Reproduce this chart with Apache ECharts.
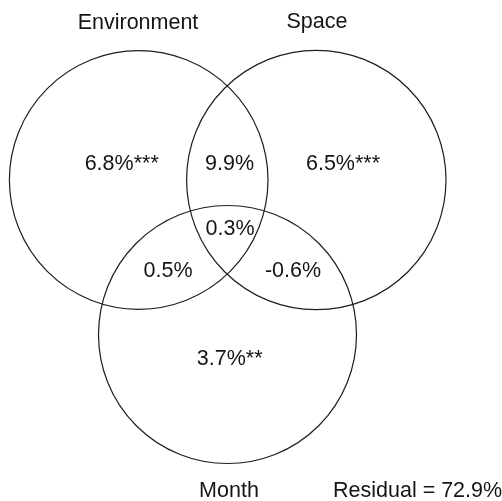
<!DOCTYPE html>
<html><head><meta charset="utf-8">
<script src="https://cdn.jsdelivr.net/npm/echarts@6/dist/echarts.min.js"></script>
<style>html,body{margin:0;padding:0;background:#fff}#c{width:502px;height:501px}</style>
</head><body><div id="c"></div>
<script>
// Sets (circles) in chart units
const setNames = ['Environment', 'Space', 'Month'];
const setCx = [138.7, 316.3, 227.5];
const setCy = [180, 180, 334.5];
const setR = [129.3, 129.7, 129];
const setLabelX = [138, 317, 229];
const setLabelY = [23, 22, 491];
// Region values
const regionLabels = ['6.8%***', '9.9%', '6.5%***', '0.3%', '0.5%', '-0.6%', '3.7%**'];
const regionX = [121.7, 229.5, 343, 230, 168, 293, 229.7];
const regionY = [164, 164, 164, 229, 271.5, 271.5, 359];
const residualLabel = 'Residual = 72.9%';
const residualX = [333];
const residualY = [491];

const FONT = 'Liberation Sans, Arial, Helvetica, sans-serif';
const TXT = '#151515';
const FS = 21.5;

const circleData = setNames.map((n, i) => [setCx[i], setCy[i], setR[i], n]);
const setTextData = setNames.map((n, i) => [setLabelX[i], setLabelY[i], n, 'center']);
const regionData = regionLabels.map((t, i) => [regionX[i], regionY[i], t, 'center']);
const residualData = [[residualX[0], residualY[0], residualLabel, 'left']];

const chart = echarts.init(document.getElementById('c'), null, { renderer: 'canvas' });
const textSeries = (data) => ({
  type: 'custom', data: data, coordinateSystem: 'cartesian2d',
  renderItem: function (params, api) {
    const p = api.coord([api.value(0), api.value(1)]);
    const d = data[params.dataIndex];
    return {
      type: 'text', x: p[0], y: p[1],
      style: { text: d[2], fontSize: FS, fontFamily: FONT, fill: TXT, align: d[3], verticalAlign: 'middle' }
    };
  },
  encode: { x: 0, y: 1 }, silent: true
});
chart.setOption({
  animation: false,
  backgroundColor: '#fff',
  grid: { left: 0, right: 0, top: 0, bottom: 0 },
  xAxis: { type: 'value', min: 0, max: 502, show: false },
  yAxis: { type: 'value', min: 0, max: 501, inverse: true, show: false },
  series: [
    {
      type: 'custom', data: circleData, coordinateSystem: 'cartesian2d',
      encode: { x: 0, y: 1 }, silent: true,
      renderItem: function (params, api) {
        const c = api.coord([api.value(0), api.value(1)]);
        const s = api.size([api.value(2), api.value(2)]);
        return { type: 'circle', shape: { cx: c[0], cy: c[1], r: s[0] },
          style: { fill: 'none', stroke: '#1e1e1e', lineWidth: 1.2 } };
      }
    },
    textSeries(setTextData),
    textSeries(regionData),
    textSeries(residualData)
  ]
});
</script>
</body></html>
